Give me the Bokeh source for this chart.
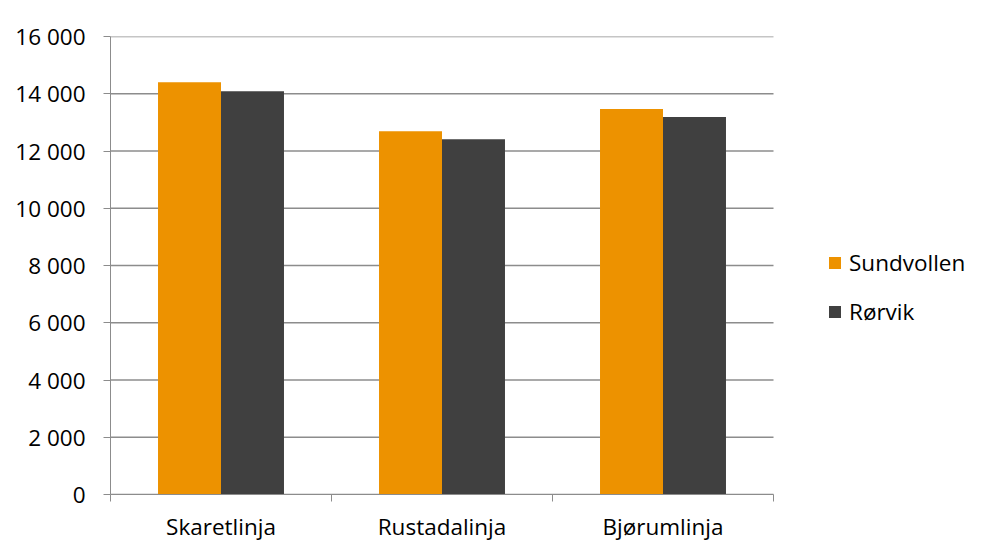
from bokeh.plotting import figure
from bokeh.models import FixedTicker, Range1d, Legend, LegendItem
from bokeh.transform import dodge
from bokeh.models import ColumnDataSource
from bokeh.embed import file_html
from bokeh.resources import INLINE

categories = ["Skaretlinja", "Rustadalinja", "Bjørumlinja"]
sundvollen = [14400, 12690, 13470]
rorvik = [14090, 12410, 13190]
y_ticks = [0, 2000, 4000, 6000, 8000, 10000, 12000, 14000, 16000]

FONT = "Open Sans"
FS = "22.5px"
GRID = "#8c8c8c"

n = len(categories)
xpos = [i + 0.5 for i in range(n)]
src = ColumnDataSource(dict(x=xpos, s=sundvollen, r=rorvik))

# frame spans to the right edge so the legend is not clipped;
# the plotted area (0..n) occupies 663 of the 872 frame pixels
x_end = n * 872 / 663

p = figure(width=982, height=554, output_backend="svg", toolbar_location=None,
           x_range=Range1d(0, x_end), y_range=Range1d(0, 16000),
           min_border_left=110, min_border_right=0, min_border_top=36,
           min_border_bottom=60)
p.outline_line_color = None
p.xgrid.grid_line_color = None
p.ygrid.grid_line_color = None

# horizontal gridlines limited to the plotted categories
p.segment(x0=[0] * len(y_ticks), x1=[n] * len(y_ticks), y0=y_ticks, y1=y_ticks,
          line_color=GRID, line_width=1.3)

r1 = p.vbar(x=dodge("x", -0.1425), top="s", width=0.285, source=src,
            fill_color="#ED9200", line_color=None)
r2 = p.vbar(x=dodge("x", 0.1425), top="r", width=0.285, source=src,
            fill_color="#404040", line_color=None)

# x axis
xa = p.xaxis[0]
xa.bounds = (0, n)
xa.ticker = FixedTicker(ticks=xpos, minor_ticks=list(range(n + 1)))
xa.major_label_overrides = {x: c for x, c in zip(xpos, categories)}
xa.major_tick_line_color = None
xa.minor_tick_line_color = GRID
xa.minor_tick_out = 7
xa.minor_tick_in = 0
xa.axis_line_color = GRID
xa.major_label_text_font = FONT
xa.major_label_text_font_size = FS
xa.major_label_text_color = "#000000"
xa.major_label_standoff = 9

# y axis
ya = p.yaxis[0]
ya.ticker = FixedTicker(ticks=y_ticks)
ya.major_label_overrides = {t: f"{t:,}".replace(",", " ") for t in y_ticks}
ya.major_tick_out = 7
ya.major_tick_in = 0
ya.major_tick_line_color = GRID
ya.minor_tick_line_color = None
ya.axis_line_color = GRID
ya.major_label_text_font = FONT
ya.major_label_text_font_size = FS
ya.major_label_text_color = "#000000"
ya.major_label_standoff = 18

legend = Legend(items=[LegendItem(label="Sundvollen", renderers=[r1]),
                       LegendItem(label="Rørvik", renderers=[r2])],
                location=(717, 167))
legend.border_line_color = None
legend.background_fill_alpha = 0
legend.glyph_width = 15
legend.glyph_height = 15
legend.label_text_font = FONT
legend.label_text_font_size = FS
legend.label_text_color = "#000000"
legend.label_height = 31
legend.spacing = 18
legend.label_standoff = 7
legend.padding = 0
legend.margin = 0
p.add_layout(legend, "center")

open("out.html", "w").write(file_html(p, INLINE))
